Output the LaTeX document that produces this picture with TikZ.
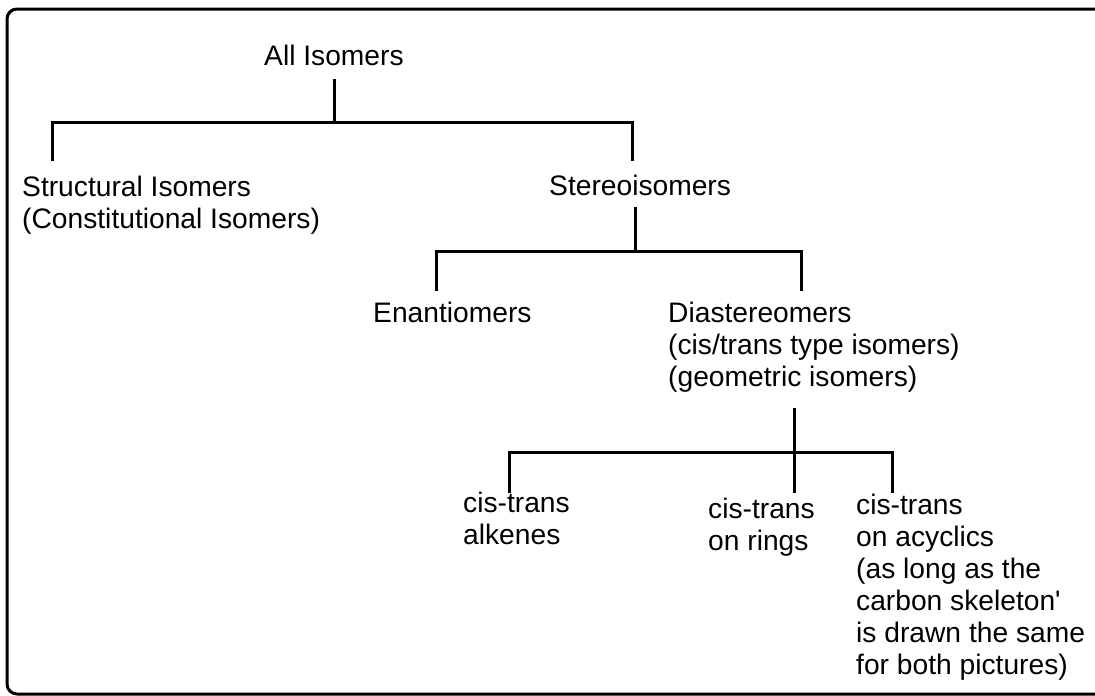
\documentclass[tikz,border=0pt]{standalone}
\usepackage{fontspec}
\setmainfont{Liberation Sans}
\begin{document}
\begin{tikzpicture}[x=1pt,y=-1pt,
  lbl/.style={anchor=base west,inner sep=0pt,align=left,font=\fontsize{28.2}{32}\selectfont},
  conn/.style={line width=3pt,line cap=butt},
  frame/.style={line width=3pt,rounded corners=10pt}]
\useasboundingbox (0,0) rectangle (1095,696);
\begin{scope}
\clip (0,0) rectangle (1095,696);
\draw[frame] (7,9) rectangle (1120,694);
\end{scope}
% labels (anchor at the baseline of the last line)
\node[lbl] (all) at (264,65) {All Isomers};
\node[lbl] (struct) at (22,228) {Structural Isomers\\(Constitutional Isomers)};
\node[lbl] (stereo) at (549,195) {Stereoisomers};
\node[lbl] (enan) at (373,322) {Enantiomers};
\node[lbl] (dia) at (668,386) {Diastereomers\\(cis/trans type isomers)\\(geometric isomers)};
\node[lbl] (alk) at (463,544) {cis-trans\\alkenes};
\node[lbl] (ring) at (708,550) {cis-trans\\on rings};
\node[lbl] (acyc) at (856,674) {cis-trans\\on acyclics\\(as long as the\\carbon skeleton\textquotesingle\\is drawn the same\\for both pictures)};
% connector end points
\coordinate (all-out) at (334,79);
\coordinate (all-split) at (334,122);
\coordinate (struct-in) at (52,161);
\coordinate (stereo-in) at (632,161);
\coordinate (stereo-out) at (635,207);
\coordinate (stereo-split) at (635,251);
\coordinate (enan-in) at (436,291);
\coordinate (dia-in) at (801,291);
\coordinate (dia-out) at (794,408);
\coordinate (dia-split) at (794,452);
\coordinate (alk-in) at (509,493);
\coordinate (ring-in) at (794,493);
\coordinate (acyc-in) at (892,493);
% connectors
\draw[conn] (all-out) -- (all-split);
\draw[conn] (struct-in) |- (stereo-in |- all-split) -- (stereo-in);
\draw[conn] (stereo-out) -- (stereo-split);
\draw[conn] (enan-in) |- (dia-in |- stereo-split) -- (dia-in);
\draw[conn] (dia-out) -- (ring-in);
\draw[conn] (alk-in) |- (acyc-in |- dia-split) -- (acyc-in);
\end{tikzpicture}
\end{document}
